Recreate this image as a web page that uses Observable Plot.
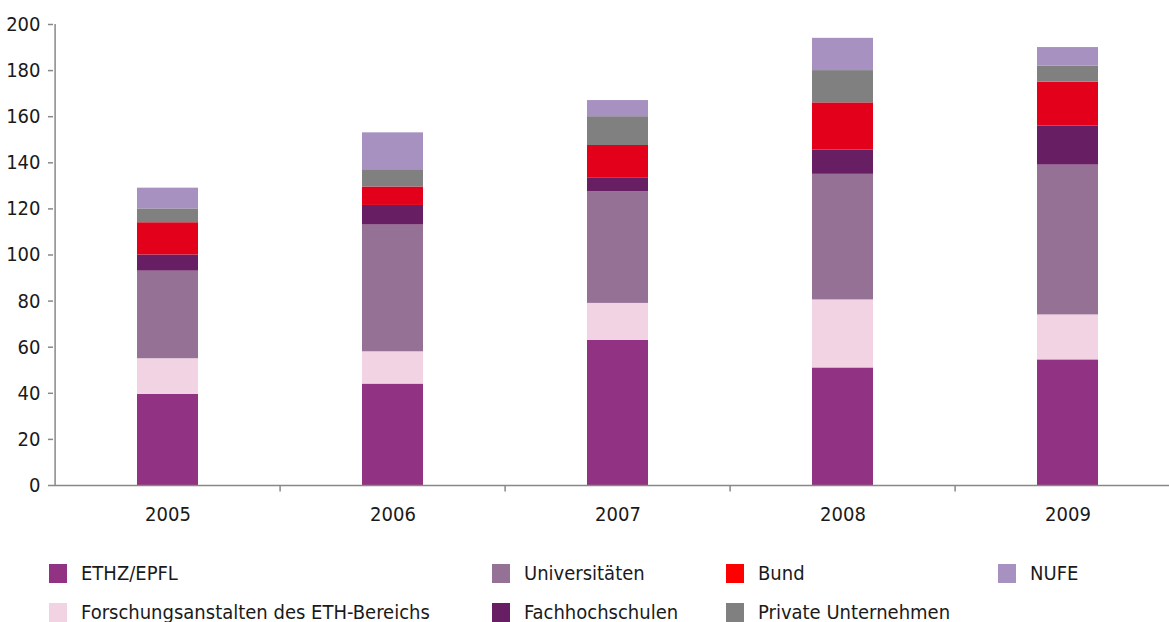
<!DOCTYPE html>
<html>
<head>
<meta charset="utf-8">
<script src="https://cdn.jsdelivr.net/npm/d3@7"></script>
<script src="https://cdn.jsdelivr.net/npm/@observablehq/plot@0.6"></script>
<style>
  html, body { margin: 0; padding: 0; background: #fff; overflow: hidden; }
  body { width: 1169px; height: 622px; font-family: "Liberation Sans Narrow", "DejaVu Sans Condensed", sans-serif; color: #1a1a1a; }
  #chart svg { display: block; }
  #legend { position: relative; height: 77px; padding-top: 19px; }
  .row { position: relative; height: 39px; }
  .item { position: absolute; top: 0; display: flex; align-items: center; height: 19px; }
  .sw { width: 18px; height: 19px; margin-right: 14px; flex: none; }
  .lbl { font-size: 20px; line-height: 19px; white-space: nowrap; }
</style>
</head>
<body>
<div id="chart"></div>
<div id="legend"></div>
<script>
const years = ["2005", "2006", "2007", "2008", "2009"];
const series = ["ETHZ/EPFL", "Forschungsanstalten des ETH-Bereichs", "Universitäten", "Fachhochschulen", "Bund", "Private Unternehmen", "NUFE"];
const colors = ["#923282", "#f2d3e3", "#957196", "#681e63", "#e2001a", "#808080", "#a791c1"];
const legendColors = ["#923282", "#f2d3e3", "#957196", "#681e63", "#fe0000", "#808080", "#a791c1"];

const ethz      = [39.5, 44.0, 63.0, 51.0, 54.5];
const forsch    = [15.5, 14.0, 16.0, 29.5, 19.5];
const univ      = [38.0, 55.0, 48.5, 54.5, 65.0];
const fh        = [7.0, 8.5, 6.0, 10.5, 17.0];
const bund      = [14.0, 8.0, 14.0, 20.5, 19.0];
const privat    = [6.0, 7.5, 12.5, 14.0, 7.0];
const nufe      = [9.0, 16.0, 7.0, 14.0, 8.0];
const yTicks = [0, 20, 40, 60, 80, 100, 120, 140, 160, 180, 200];

const values = [ethz, forsch, univ, fh, bund, privat, nufe];
const data = [];
years.forEach((y, i) => series.forEach((s, j) => data.push({year: y, series: s, value: values[j][i]})));

const W = 1169, left = 53, right = 1182;
const step = (right - left) / years.length;

const chart = Plot.plot({
  width: W,
  height: 545,
  marginLeft: left,
  marginRight: 0,
  marginTop: 24,
  marginBottom: 60,
  style: {fontFamily: '"Liberation Sans Narrow", "DejaVu Sans Condensed", sans-serif', fontSize: "20px", color: "#1a1a1a", background: "#fff"},
  x: {domain: years, range: [left, right], paddingInner: 0.73, paddingOuter: 0.365, label: null},
  y: {domain: [0, 200], label: null},
  color: {domain: series, range: colors},
  marks: [
    Plot.barY(data, {x: "year", y: "value", fill: "series", order: series}),
    Plot.ruleY([0], {stroke: "#888", strokeWidth: 1.5}),
    Plot.ruleX(years.slice(1), {x: d => d, y1: 0, y2: -2.8, dx: -step / 2, stroke: "#888", strokeWidth: 1.5}),
    Plot.ruleX([years[0]], {x: d => d, y1: 0, y2: 200, dx: -(step / 2), stroke: "#888", strokeWidth: 1.5}),
    Plot.axisY({ticks: yTicks, tickSize: 5, tickPadding: 8, stroke: "#888", strokeWidth: 1.5, fill: "#1a1a1a", fontSize: 20, label: null}),
    Plot.axisX({tickSize: 0, tickPadding: 21, fill: "#1a1a1a", fontSize: 20, label: null})
  ]
});
document.getElementById("chart").appendChild(chart);

// Legend (two rows, four fixed columns)
const rows = [
  [[0, 49], [2, 492], [4, 726], [6, 998]],
  [[1, 49], [3, 492], [5, 726]]
];
const legend = d3.select("#legend");
rows.forEach(r => {
  const row = legend.append("div").attr("class", "row");
  r.forEach(([idx, x]) => {
    const item = row.append("div").attr("class", "item").style("left", x + "px");
    item.append("div").attr("class", "sw").style("background", legendColors[idx]);
    item.append("div").attr("class", "lbl").text(series[idx]);
  });
});
</script>
</body>
</html>
